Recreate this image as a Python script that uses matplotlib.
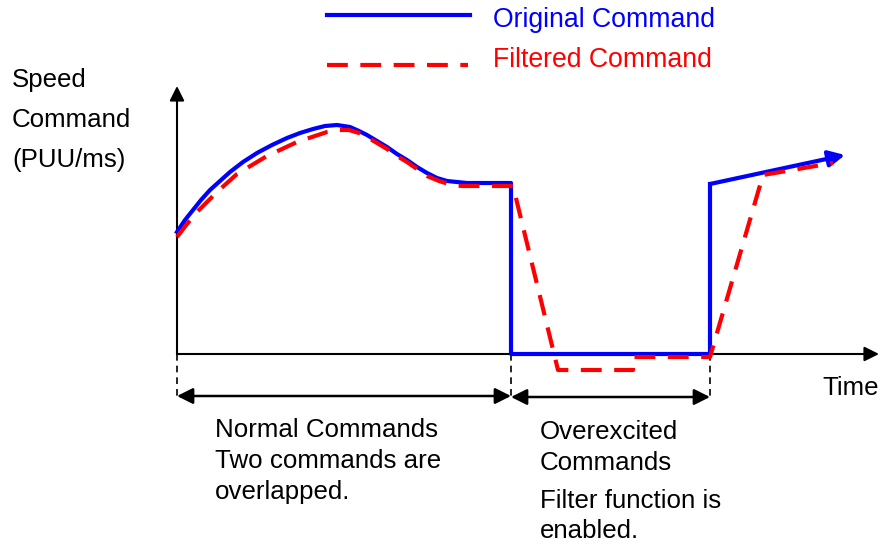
import matplotlib
matplotlib.use("Agg")
import matplotlib.pyplot as plt

plt.rcParams['font.family'] = ['Liberation Sans', 'DejaVu Sans']

# time / speed readings (origin at the axis crossing)
orig_t = [0, 8, 16, 24, 33, 43, 53, 66, 80, 95, 110, 123, 136, 148, 160, 173, 182, 190,
          200, 210, 220, 230, 240, 250, 260, 270, 280, 290, 334, 334, 533, 533]
orig_v = [122, 134, 144, 154, 164, 173, 182, 192, 201, 209, 216, 221, 225, 228, 229, 227, 223, 219,
          213, 207, 200, 194, 187, 181, 176, 173, 172, 171, 171, 0, 0, 170]
orig_end = (668, 199)

filt_t = [0, 10, 20, 30, 40, 50, 60, 75, 90, 105, 120, 135, 150, 162, 172, 182, 190, 200,
          210, 220, 230, 240, 250, 262, 275, 285, 295, 336, 381, 456, 456, 533, 586, 656]
filt_v = [117, 130, 142, 152, 162, 171, 180, 189, 198, 205, 212, 217, 222, 224, 224, 221, 217, 211,
          205, 198, 192, 185, 178, 173, 169, 168, 168, 168, -16, -16, -3, -3, 179, 191]

# region boundaries on the time axis
bounds = [0, 334, 533]

fig = plt.figure(figsize=(8.8, 5.44), dpi=100)
ax = fig.add_axes([0, 0, 1, 1])
ax.set_xlim(-177, 703)
ax.set_ylim(-190, 354)
ax.axis('off')

# axes with arrowheads
ax.annotate('', xy=(702, 0), xytext=(0, 0), annotation_clip=False,
            arrowprops=dict(arrowstyle='-|>', color='black', lw=1.5, mutation_scale=22,
                            shrinkA=0, shrinkB=0))
ax.annotate('', xy=(0, 268), xytext=(0, 0), annotation_clip=False,
            arrowprops=dict(arrowstyle='-|>', color='black', lw=1.5, mutation_scale=22,
                            shrinkA=0, shrinkB=0))

# curves
ax.plot(orig_t, orig_v, color='blue', lw=3, solid_joinstyle='round', zorder=3)
ax.annotate('', xy=orig_end, xytext=(orig_t[-1], orig_v[-1]),
            arrowprops=dict(arrowstyle='-|>', color='blue', lw=3, mutation_scale=24,
                            shrinkA=0, shrinkB=0), zorder=3)
ax.plot(filt_t, filt_v, color='red', lw=3, ls=(0, (5, 3)), zorder=4)

# region markers
for b in bounds:
    ax.plot([b, b], [0, -42], color='black', lw=1.2, ls=(0, (4, 3)))
ax.annotate('', xy=(bounds[0], -42), xytext=(bounds[1], -42),
            arrowprops=dict(arrowstyle='<|-|>', color='black', lw=1.8, mutation_scale=24,
                            shrinkA=0, shrinkB=0))
ax.annotate('', xy=(bounds[1], -43), xytext=(bounds[2], -43),
            arrowprops=dict(arrowstyle='<|-|>', color='black', lw=1.8, mutation_scale=24,
                            shrinkA=0, shrinkB=0))

fs = 18.6
ax.text(-165, 274, 'Speed', fontsize=fs, va='center')
ax.text(-165, 234, 'Command', fontsize=fs, va='center')
ax.text(-165, 194, '(PUU/ms)', fontsize=fs, va='center')
ax.text(645, -34, 'Time', fontsize=fs, va='center')

ax.text(38, -76, 'Normal Commands', fontsize=fs, va='center')
ax.text(38, -107, 'Two commands are', fontsize=fs, va='center')
ax.text(38, -138, 'overlapped.', fontsize=fs, va='center')
ax.text(363, -78, 'Overexcited', fontsize=fs, va='center')
ax.text(363, -109, 'Commands', fontsize=fs, va='center')
ax.text(363, -147, 'Filter function is', fontsize=fs, va='center')
ax.text(363, -177, 'enabled.', fontsize=fs, va='center')

# legend
ax.plot([150, 293], [339, 339], color='blue', lw=3)
ax.plot([150, 291], [289, 289], color='red', lw=3, ls=(0, (5, 3)))
ax.text(316, 334, 'Original Command', fontsize=19.2, va='center', color='blue')
ax.text(316, 294, 'Filtered Command', fontsize=19.2, va='center', color='red')

fig.savefig('out.png', dpi=100)
